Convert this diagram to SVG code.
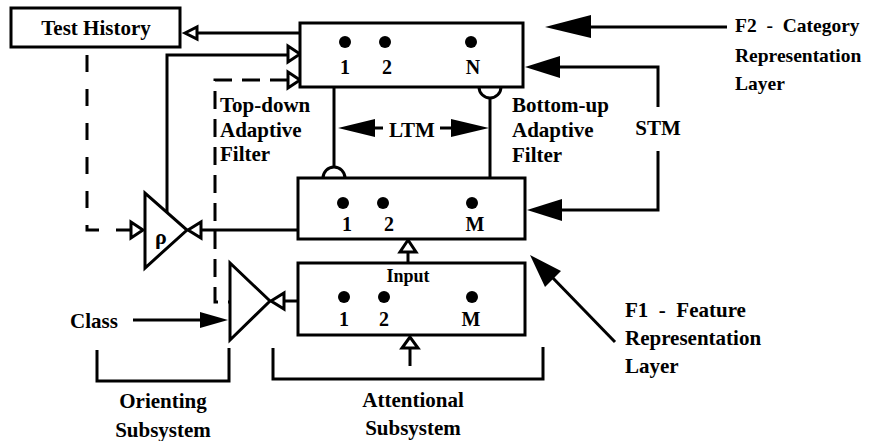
<svg xmlns="http://www.w3.org/2000/svg" width="877" height="441" viewBox="0 0 877 441">
<style>
  .box { fill: #fff; stroke: #000; stroke-width: 3; }
  .ln { fill: none; stroke: #000; stroke-width: 3; }
  .dash { fill: none; stroke: #000; stroke-width: 3; stroke-dasharray: 17 17; }
  .dash2 { fill: none; stroke: #000; stroke-width: 3; stroke-dasharray: 18 10; }
  .open { fill: #fff; stroke: #000; stroke-width: 3; stroke-linejoin: miter; }
  .solid { fill: #000; stroke: none; }
  .dot { fill: #000; }
  text { font-family: "Liberation Serif", "Times New Roman", serif; font-weight: bold; fill: #000; font-size: 21px; }
  .num { font-size: 20px; text-anchor: middle; }
  .mid { text-anchor: middle; }
  .pre { white-space: pre; }
  .f2 { font-size: 19.5px; }
</style>

<g id="connectors">
  <!-- Test History feedback from F2 -->
  <path class="ln" d="M300,33 H197"/>
  <polygon class="open" points="185,33 197,27 197,39"/>
  <!-- rho output to F2 -->
  <path class="ln" d="M167,212 V55 H288"/>
  <polygon class="open" points="300,54 288,46 288,62"/>
  <!-- dashed class signal to F2 -->
  <path class="dash2" d="M288,80 H215 V302 H230"/>
  <polygon class="open" points="300,80 288,72 288,88"/>
  <!-- Test History dashed to rho -->
  <path class="dash" d="M87,55 V230 H131"/>
  <polygon class="open" points="143,230 131,222 131,238"/>
  <!-- F1 to rho -->
  <path class="ln" d="M298,230 H201"/>
  <polygon class="open" points="188,230 201,222 201,238"/>
  <!-- input box to class triangle -->
  <path class="ln" d="M298,301 H284"/>
  <polygon class="open" points="271,301 284,293 284,309"/>
  <!-- input to F1 -->
  <path class="ln" d="M408,263 V252"/>
  <polygon class="open" points="408,240 400,252 416,252"/>
  <!-- external input -->
  <path class="ln" d="M410,366 V348"/>
  <polygon class="open" points="410,337 402,348 418,348"/>
  <!-- LTM adaptive filters -->
  <path class="ln" d="M334,87 V167"/>
  <path class="ln" d="M323,178 A11,11 0 0 1 345,178"/>
  <path class="ln" d="M490,98 V178"/>
  <path class="ln" d="M479,87 A11,11 0 0 0 501,87"/>
  <!-- LTM arrows -->
  <path class="ln" d="M383,128 H370"/>
  <polygon class="solid" points="338,128 375,119 375,137"/>
  <path class="ln" d="M440,128 H455"/>
  <polygon class="solid" points="489,128 451,119 451,137"/>
  <!-- STM loop -->
  <path class="ln" d="M555,67 H658 V107"/>
  <path class="ln" d="M658,151 V210 H555"/>
  <polygon class="solid" points="525,67 560,56 560,78"/>
  <polygon class="solid" points="527,210 562,199 562,221"/>
  <!-- F2 label arrow -->
  <path class="ln" d="M727,27 H585"/>
  <polygon class="solid" points="545,27 591,15 591,38"/>
  <!-- F1 label arrow -->
  <path class="ln" d="M615,342 L550,275"/>
  <polygon class="solid" points="530,255 561,271 545,287"/>
  <!-- Class arrow -->
  <path class="ln" d="M133,320 H205"/>
  <polygon class="solid" points="228,320 200,312 200,328"/>
  <!-- brackets -->
  <path class="ln" d="M97,350 V381 H229 V348"/>
  <path class="ln" d="M273,348 V379 H543 V347"/>
</g>

<g id="test-history">
  <rect class="box" x="11" y="8" width="169" height="39"/>
  <text class="mid" x="96" y="35">Test History</text>
</g>

<g id="f2">
  <rect class="box" x="300" y="23" width="223" height="64"/>
  <circle class="dot" cx="345" cy="42" r="6"/>
  <circle class="dot" cx="385" cy="42" r="6"/>
  <circle class="dot" cx="471" cy="42" r="6"/>
  <text class="num" x="345" y="74">1</text>
  <text class="num" x="387" y="74">2</text>
  <text class="num" x="473" y="74">N</text>
</g>

<g id="f1">
  <rect class="box" x="298" y="178" width="227" height="61"/>
  <circle class="dot" cx="343" cy="203" r="6"/>
  <circle class="dot" cx="383" cy="203" r="6"/>
  <circle class="dot" cx="472" cy="203" r="6"/>
  <text class="num" x="347" y="231">1</text>
  <text class="num" x="389" y="231">2</text>
  <text class="num" x="475" y="231">M</text>
</g>

<g id="input-layer">
  <rect class="box" x="298" y="263" width="227" height="72"/>
  <circle class="dot" cx="344" cy="297" r="6"/>
  <circle class="dot" cx="384" cy="297" r="6"/>
  <circle class="dot" cx="472" cy="297" r="6"/>
  <text class="num" x="344" y="326">1</text>
  <text class="num" x="384" y="326">2</text>
  <text class="num" x="471" y="326">M</text>
  <text class="mid" x="408" y="282" style="font-size:18px">Input</text>
</g>

<g id="rho">
  <polygon class="open" points="145,193 145,268 187,230"/>
  <text x="155" y="244" style="font-size:22px">ρ</text>
</g>

<g id="class-gate">
  <polygon class="open" points="230,263 230,340 270,301"/>
</g>

<g id="labels">
  <text x="220" y="112">Top-down</text>
  <text x="220" y="137">Adaptive</text>
  <text x="220" y="161">Filter</text>
  <text x="512" y="112">Bottom-up</text>
  <text x="512" y="137">Adaptive</text>
  <text x="512" y="162">Filter</text>
  <text class="mid" x="412" y="137">LTM</text>
  <text class="mid" x="658" y="135">STM</text>
  <text class="pre f2" x="735" y="32">F2  -  Category</text>
  <text class="f2" x="735" y="62">Representation</text>
  <text class="f2" x="735" y="90">Layer</text>
  <text class="pre" x="625" y="317">F1  -  Feature</text>
  <text x="625" y="345">Representation</text>
  <text x="625" y="373">Layer</text>
  <text x="70" y="328">Class</text>
  <text class="mid" x="163" y="408">Orienting</text>
  <text class="mid" x="163" y="437">Subsystem</text>
  <text class="mid" x="413" y="407">Attentional</text>
  <text class="mid" x="413" y="435">Subsystem</text>
</g>
</svg>
